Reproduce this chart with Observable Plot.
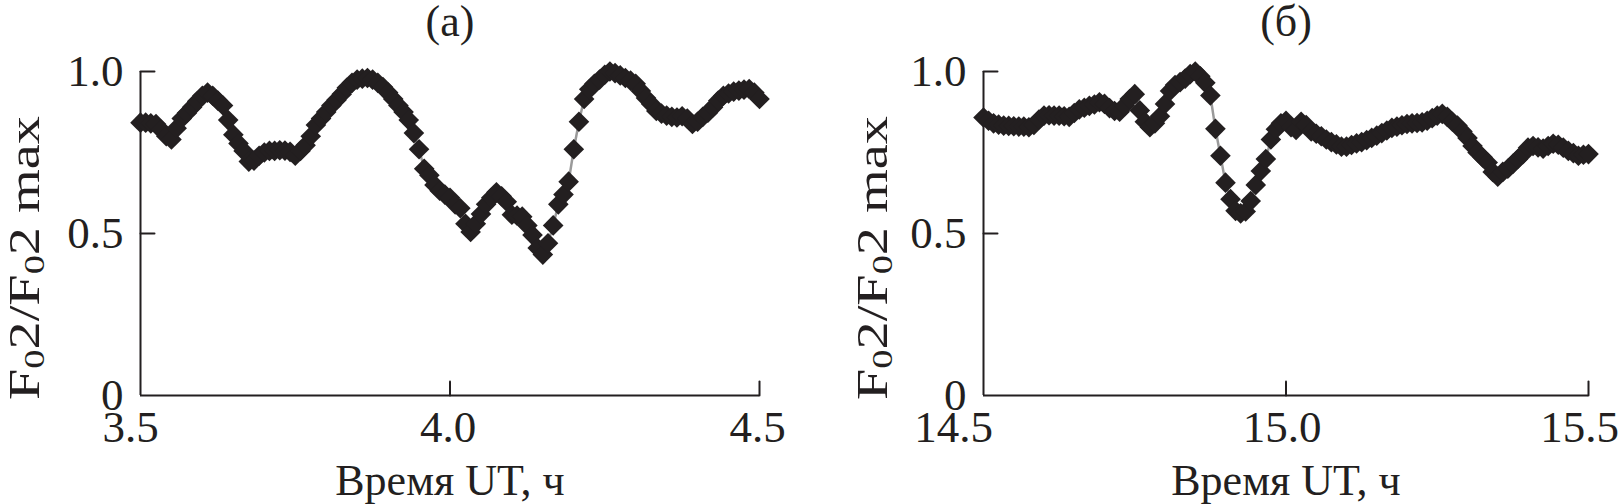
<!DOCTYPE html>
<html><head><meta charset="utf-8">
<script src="https://cdn.jsdelivr.net/npm/d3@7"></script>
<script src="https://cdn.jsdelivr.net/npm/@observablehq/plot@0.6"></script>
<style>
body{margin:0;background:#fff;}
#wrap{display:flex;width:1620px;height:504px;overflow:hidden;}
#wrap svg{overflow:visible;display:block;}
</style></head><body><div id="wrap"></div>
<script>
// ---- data ----
const panelTitles = ["(а)", "(б)"];
const xLabel = "Время UT, ч";
const startA = 3.5, startB = 14.5;      // first sample time, h
const stepHours = 1 / 120;              // 30-second sampling
const valuesA = [
0.842,0.842,0.840,0.838,0.820,0.800,0.790,0.825,0.855,0.872,
0.890,0.908,0.925,0.935,0.925,0.910,0.895,0.850,0.805,0.778,
0.755,0.722,0.725,0.740,0.750,0.755,0.755,0.757,0.756,0.752,
0.740,0.755,0.772,0.800,0.835,0.855,0.875,0.895,0.912,0.930,
0.950,0.965,0.975,0.978,0.980,0.975,0.965,0.952,0.935,0.915,
0.895,0.875,0.850,0.810,0.760,0.700,0.680,0.650,0.632,0.620,
0.610,0.590,0.578,0.530,0.505,0.530,0.560,0.590,0.610,0.627,
0.615,0.598,0.558,0.555,0.552,0.525,0.495,0.455,0.435,0.470,
0.525,0.590,0.620,0.660,0.760,0.845,0.915,0.945,0.962,0.975,
0.990,1.000,0.995,0.988,0.980,0.972,0.962,0.940,0.918,0.900,
0.878,0.870,0.864,0.860,0.858,0.862,0.855,0.838,0.845,0.860,
0.873,0.890,0.910,0.925,0.932,0.938,0.941,0.944,0.946,0.935,
0.915];
const valuesB = [
0.858,0.848,0.840,0.836,0.833,0.832,0.831,0.830,0.830,0.828,
0.835,0.852,0.864,0.865,0.864,0.864,0.862,0.860,0.872,0.883,
0.888,0.894,0.898,0.905,0.900,0.887,0.878,0.876,0.895,0.915,
0.930,0.880,0.845,0.828,0.840,0.862,0.900,0.940,0.958,0.967,
0.978,0.992,1.000,0.985,0.965,0.926,0.823,0.740,0.657,0.606,
0.570,0.562,0.568,0.600,0.650,0.693,0.730,0.790,0.822,0.840,
0.848,0.828,0.820,0.845,0.835,0.815,0.808,0.800,0.790,0.782,
0.775,0.768,0.768,0.773,0.778,0.782,0.788,0.795,0.802,0.810,
0.818,0.826,0.830,0.834,0.838,0.840,0.841,0.843,0.848,0.856,
0.864,0.869,0.860,0.845,0.833,0.815,0.795,0.770,0.750,0.735,
0.719,0.690,0.675,0.690,0.700,0.715,0.730,0.745,0.765,0.770,
0.766,0.762,0.770,0.777,0.774,0.765,0.755,0.748,0.740,0.743,
0.745];
const xTicksA = [3.5, 4.0, 4.5];
const xTicksB = [14.5, 15.0, 15.5];
const xTickLabelsA = ["3.5", "4.0", "4.5"];
const xTickLabelsB = ["14.5", "15.0", "15.5"];
const yTicks = [0, 0.5, 1.0];
const yTickLabels = ["0", "0.5", "1.0"];

// ---- drawing ----
const ink = "#231f20";
const font = "'Liberation Serif', 'Times New Roman', serif";
const fs = 45;
const tickShape = {draw(ctx, l) { ctx.moveTo(0, 0); ctx.lineTo(0, -l); }};

function panel(values, start, xTicks, xTickLabels, title, cfg) {
  const data = values.map((v, i) => ({t: start + i * stepHours, v}));
  const x0 = xTicks[0], x1 = xTicks[xTicks.length - 1];
  const xTickMarks = xTicks.map((tk, i) =>
    Plot.text([tk], {x: d => d, y: () => 0, text: () => xTickLabels[i], dy: 32, dx: cfg.xLabelShift[i],
      lineAnchor: "middle", fontSize: fs, fill: ink, ariaLabel: "xtick"}));
  const svg = Plot.plot({
    width: 810, height: 504,
    marginTop: 71, marginBottom: 109,
    marginLeft: cfg.marginLeft, marginRight: cfg.marginRight,
    x: {domain: [x0, x1], axis: null},
    y: {domain: [0, 1], axis: null},
    style: {fontFamily: font, fontSize: fs + "px", color: ink, background: "white", overflow: "visible"},
    marks: [
      Plot.ruleX([x0], {y1: 0, y2: 1, stroke: ink, strokeWidth: 2}),
      Plot.ruleY([0], {x1: x0, x2: x1, stroke: ink, strokeWidth: 2}),
      Plot.vector(yTicks.slice(1), {x: () => x0, y: d => d, length: 14, rotate: 90, anchor: "start",
        shape: tickShape, stroke: ink, strokeWidth: 2}),
      Plot.vector(xTicks.slice(1), {x: d => d, y: () => 0, length: 14, rotate: 0, anchor: "start",
        shape: tickShape, stroke: ink, strokeWidth: 2}),
      Plot.text(yTicks, {x: () => x0, y: d => d, text: d => yTickLabels[yTicks.indexOf(d)],
        textAnchor: "end", dx: -17, lineAnchor: "middle", fontSize: fs, fill: ink, ariaLabel: "ytick"}),
      ...xTickMarks,
      Plot.line(data, {x: "t", y: "v", stroke: "#9a9a9a", strokeWidth: 2.5}),
      Plot.dot(data, {x: "t", y: "v", symbol: "diamond2", r: 9.3, fill: ink, stroke: "none"}),
      Plot.text([title], {frameAnchor: "top", dy: -50, fontSize: 44, fill: ink, lineAnchor: "middle"}),
      Plot.text([xLabel], {frameAnchor: "bottom", dy: 85, fontSize: 44, fill: ink, lineAnchor: "middle"})
    ]
  });
  // condensed digits for tick labels
  svg.querySelectorAll('g[aria-label="xtick"] text, g[aria-label="ytick"] text').forEach(el => {
    const tr = el.getAttribute("transform") || "";
    el.setAttribute("transform", tr + " scale(0.84,1)");
  });
  // y-axis title with subscripts
  const lab = d3.select(svg).append("text")
    .attr("transform", `translate(${cfg.yLabelX},${cfg.yLabelY}) rotate(-90)`)
    .attr("text-anchor", "middle")
    .attr("dominant-baseline", "central")
    .attr("font-family", font)
    .attr("font-size", 44)
    .attr("fill", ink)
    .attr("textLength", 284)
    .attr("lengthAdjust", "spacingAndGlyphs");
  lab.append("tspan").text("F");
  lab.append("tspan").attr("font-size", 30).attr("dy", 9).text("0");
  lab.append("tspan").attr("dy", -9).text("2/F");
  lab.append("tspan").attr("font-size", 30).attr("dy", 9).text("0");
  lab.append("tspan").attr("dy", -9).text("2 max");
  return svg;
}

const wrap = document.getElementById("wrap");
wrap.append(panel(valuesA, startA, xTicksA, xTickLabelsA, panelTitles[0],
  {marginLeft: 140, marginRight: 51, yLabelX: 24, yLabelY: 258, xLabelShift: [-10, -2, -2]}));
wrap.append(panel(valuesB, startB, xTicksB, xTickLabelsB, panelTitles[1],
  {marginLeft: 173, marginRight: 32, yLabelX: 62, yLabelY: 258, xLabelShift: [-30, -4, -9]}));
</script>
</body></html>
